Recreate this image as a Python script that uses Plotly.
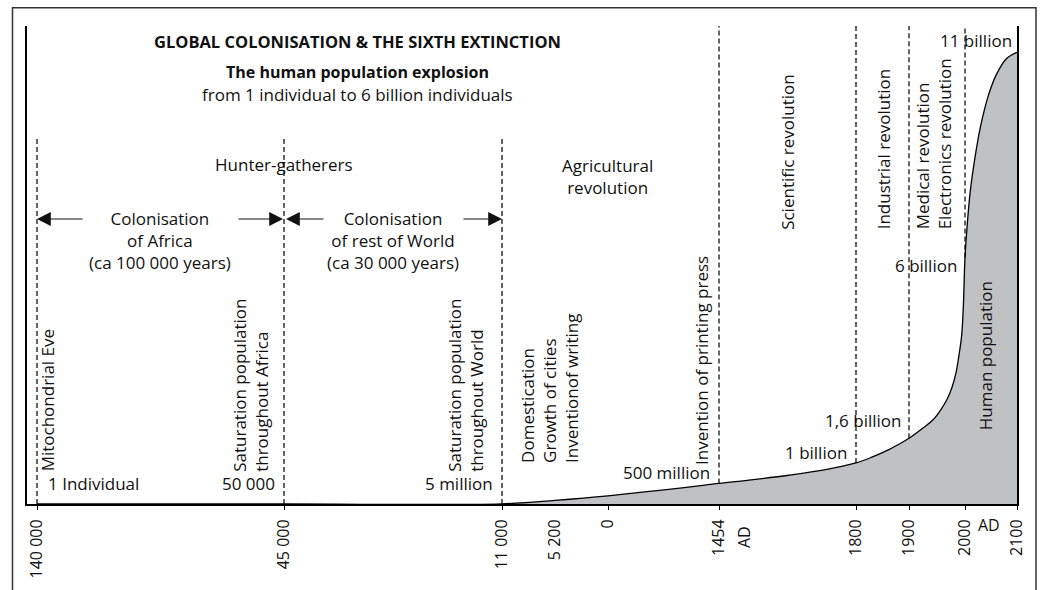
import numpy as np
import plotly.graph_objects as go

# ---- schematic timeline: every labelled year gets its own slot on the axis ----
tick_years = [-140000, -45000, -11000, -5200, 0, 1454, 1800, 1900, 2000, 2100]
tick_slots = [10, 257, 475, 528, 581, 692, 829, 882, 938, 990]
tick_text = ["140 000", "45 000", "11 000", "5 200", "0",
             "1454", "1800", "1900", "2000", "2100"]
marked_years = [-140000, -45000, -11000, 0, 1454, 1800, 1900, 2000, 2100]

# ---- human population (billions) ----
pop_years = [-140000, -45000, -11000, -5200, 0, 1454, 1630, 1720, 1800, 1830, 1860, 1880,
             1900, 1925, 1943, 1957, 1968, 1977, 1984, 1989, 1994, 1997, 2000,
             2004, 2010, 2020, 2030, 2045, 2060, 2080, 2100]
pop_billions = [0.000000001, 0.00005, 0.005, 0.09, 0.2, 0.5, 0.7, 0.83, 1.0, 1.14, 1.31, 1.45,
                1.6, 1.85, 2.05, 2.3, 2.55, 2.85, 3.2, 3.6, 4.1, 4.8, 6.0,
                6.75, 7.6, 8.5, 9.2, 9.95, 10.45, 10.85, 11.0]

# ---- events drawn as dashed verticals ----
early_events = [-140000, -45000, -11000]
modern_events = [1454, 1800, 1900, 2000]

FONT = "'Open Sans', sans-serif"
INK = "#111111"
Y_TOP = 11.64
PX_PER_BN = 483 / Y_TOP


def slot(year):
    return float(np.interp(year, tick_years, tick_slots))


def pop_at(year):
    return float(np.interp(year, pop_years, pop_billions))


def yp(pixel_row):
    """vertical position on the billions axis for a given row of the figure"""
    return (509 - pixel_row) / PX_PER_BN


fig = go.Figure()

fig.add_trace(go.Scatter(
    x=[slot(y) for y in pop_years], y=pop_billions,
    mode="lines", line=dict(color="black", width=1.3, shape="spline", smoothing=1.0),
    fill="tozeroy", fillcolor="#c0c1c3", hoverinfo="skip", showlegend=False,
))
# invisible trace so the second axis (tick marks) exists
fig.add_trace(go.Scatter(x=[slot(tick_years[0])], y=[0], xaxis="x2", mode="markers",
                         marker=dict(opacity=0), hoverinfo="skip", showlegend=False))

shapes = []
dash = "5px,3px"
for yr in early_events:
    shapes.append(dict(type="line", xref="x", yref="y", x0=slot(yr), x1=slot(yr),
                       y0=0, y1=yp(140), line=dict(color="black", width=1.2, dash=dash)))
for yr in modern_events:
    shapes.append(dict(type="line", xref="x", yref="y", x0=slot(yr), x1=slot(yr),
                       y0=pop_at(yr), y1=Y_TOP, line=dict(color="black", width=1.2, dash=dash)))
# outer frame
shapes.append(dict(type="rect", xref="paper", yref="paper",
                   x0=(12.5 - 27) / 990, x1=(1036 - 27) / 990,
                   y0=-0.3, y1=(509 - 7.5) / 483,
                   line=dict(color="#333333", width=1.5), fillcolor="rgba(0,0,0,0)", layer="below"))

ann = []


def text(x, y, s, size=17, xanchor="center", yanchor="middle", angle=0, align="center", **kw):
    ann.append(dict(x=x, y=y, xref="x", yref="y", text=s, showarrow=False,
                    font=dict(family=FONT, size=size, color=INK),
                    xanchor=xanchor, yanchor=yanchor, textangle=angle, align=align, **kw))


# titles
text(330, yp(42), "<b>GLOBAL COLONISATION & THE SIXTH EXTINCTION</b>", size=16.5)
text(330, yp(72), "<b>The human population explosion</b>", size=16)
text(330, yp(95), "from 1 individual to 6 billion individuals", size=17)

# eras
text(slot(-45000), yp(166), "Hunter-gatherers")
text(133, yp(243), "Colonisation<br>of Africa<br>(ca 100 000 years)")
text(366, yp(243), "Colonisation<br>of rest of World<br>(ca 30 000 years)")
text(580, yp(178), "Agricultural<br>revolution")

# colonisation spans
for head, offset in [(slot(-140000), 47), (slot(-45000) - 1, -46),
                     (slot(-45000) + 2, 39), (slot(-11000), -40)]:
    ann.append(dict(x=head, y=yp(221), xref="x", yref="y", ax=offset, ay=0, text="",
                    showarrow=True, arrowhead=2, arrowsize=2.3, arrowwidth=1.2,
                    arrowcolor=INK, standoff=0))

# vertical event labels
text(20, yp(478), "Mitochondrial Eve", angle=-90, yanchor="bottom", align="left")
text(224, yp(479), "Saturation population<br>throughout Africa", angle=-90,
     yanchor="bottom", align="left")
text(439, yp(479), "Saturation population<br>throughout World", angle=-90,
     yanchor="bottom", align="left")
text(523, yp(470), "Domestication<br>Growth of cities<br>Inventionof writing", angle=-90,
     yanchor="bottom", align="left")
text(675, yp(472), "Invention of printing press", angle=-90, yanchor="bottom", align="left")
text(761, yp(234), "Scientific revolution", angle=-90, yanchor="bottom", align="left")
text(856, yp(234), "Industrial revolution", angle=-90, yanchor="bottom", align="left")
text(906, yp(234), "Medical revolution<br>Electronics revolution", angle=-90,
     yanchor="bottom", align="left")
text(958, yp(437), "Human population", angle=-90, yanchor="bottom", align="left")

# population milestones
text(19, yp(488), "1 Individual", xanchor="left")
text(slot(-45000) - 7, yp(488), "50 000", xanchor="right")
text(slot(-11000) - 7, yp(488), "5 million", xanchor="right")
text(slot(1454) - 7, yp(477), "500 million", xanchor="right")
text(slot(1800) - 7, yp(457), "1 billion", xanchor="right")
text(slot(1900) - 6, yp(425), "1,6 billion", xanchor="right")
text(slot(2000) - 6, yp(268), "6 billion", xanchor="right")
text(slot(2100) - 3, yp(41), "11 billion", xanchor="right")

# era markers beside the axis labels
ann.append(dict(x=slot(1454) + 25, y=-0.0, xref="x", yref="y", yshift=-33, text="AD",
                showarrow=False, textangle=-90, font=dict(family=FONT, size=16, color=INK)))
ann.append(dict(x=slot(2000) + 24, y=0, xref="x", yref="y", yshift=-21, text="AD",
                showarrow=False, font=dict(family=FONT, size=16, color=INK)))

fig.update_layout(
    width=1040, height=590,
    margin=dict(l=27, r=23, t=26, b=81),
    paper_bgcolor="white", plot_bgcolor="white",
    showlegend=False,
    shapes=shapes, annotations=ann,
    font=dict(family=FONT, size=16, color=INK),
    xaxis=dict(range=[0, 990], tickmode="array", tickvals=[slot(y) for y in tick_years],
               ticktext=tick_text, tickangle=-90, ticks="outside", ticklen=7,
               tickcolor="rgba(0,0,0,0)", showgrid=False, zeroline=False,
               showline=True, linecolor="black", linewidth=2,
               tickfont=dict(family=FONT, size=16, color=INK)),
    xaxis2=dict(range=[0, 990], overlaying="x", anchor="y", side="bottom",
                tickmode="array", tickvals=[slot(y) for y in marked_years],
                showticklabels=False, ticks="outside", ticklen=5, tickwidth=1,
                tickcolor="black", showgrid=False, zeroline=False, showline=False),
    yaxis=dict(range=[0, Y_TOP], showticklabels=False, ticks="", showgrid=False,
               zeroline=False, showline=True, linecolor="black", linewidth=2, mirror=True),
)

fig.write_html("out.html")
